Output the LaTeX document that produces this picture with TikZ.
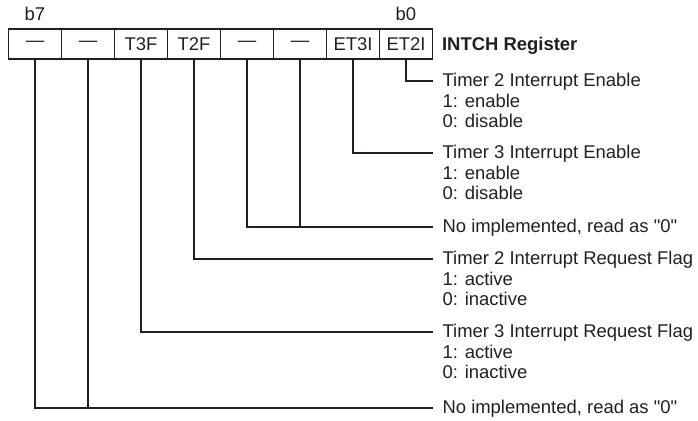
\documentclass[tikz,border=0pt]{standalone}
\usepackage{fontspec}
\setmainfont{Liberation Sans}[Ligatures=TeXOff]
\usetikzlibrary{positioning}
\definecolor{ink}{RGB}{35,31,32}

\begin{document}
\begin{tikzpicture}[x=0.02cm,y=-0.02cm,line width=0.65pt,color=ink,
  font={\fontsize{10.5}{11.7}\selectfont},
  bitcell/.style={draw,minimum width=1.06cm,minimum height=0.6cm,inner sep=0pt,outer sep=0pt},
  bitnum/.style={inner sep=0pt},
  desc/.style={anchor=north west,align=left,inner sep=0pt,xshift=0.18cm,yshift=4.6pt}]
\useasboundingbox (0,0) rectangle (698,421);
% register cells, b7 on the left
\foreach \name/\txt [count=\i from 0] in {c7/—,c6/—,c5/T3F,c4/T2F,c3/—,c2/—,c1/ET3I,c0/ET2I}
  \node[bitcell] (\name) at (35+53*\i,44) {\txt};
\node[bitnum,above=0.16cm of c7] (b7) {b7};
\node[bitnum,above=0.16cm of c0] (b0) {b0};
\node[right=0.18cm of c0,inner sep=0pt,text depth=0pt,font={\fontsize{10.5}{11.7}\selectfont\bfseries}] (title) {INTCH Register};

% ends of the connectors
\coordinate (e0) at (433,81);
\coordinate (e1) at (433,153);
\coordinate (e32) at (433,227);
\coordinate (e4) at (433,259);
\coordinate (e5) at (433,332);
\coordinate (e76) at (433,408);

\draw (c0.south) |- (e0);
\draw (c1.south) |- (e1);
\draw (c3.south) |- (e32);
\draw (c2.south) -- (c2.south |- e32);
\draw (c4.south) |- (e4);
\draw (c5.south) |- (e5);
\draw (c7.south) |- (e76);
\draw (c6.south) -- (c6.south |- e76);

% descriptions
\node[desc] (d0) at (e0) {Timer 2 Interrupt Enable\\1: enable\\0: disable};
\node[desc] (d1) at (e1) {Timer 3 Interrupt Enable\\1: enable\\0: disable};
\node[desc] (d32) at (e32) {No implemented, read as "0"};
\node[desc] (d4) at (e4) {Timer 2 Interrupt Request Flag\\1: active\\0: inactive};
\node[desc] (d5) at (e5) {Timer 3 Interrupt Request Flag\\1: active\\0: inactive};
\node[desc] (d76) at (e76) {No implemented, read as "0"};
\end{tikzpicture}
\end{document}
